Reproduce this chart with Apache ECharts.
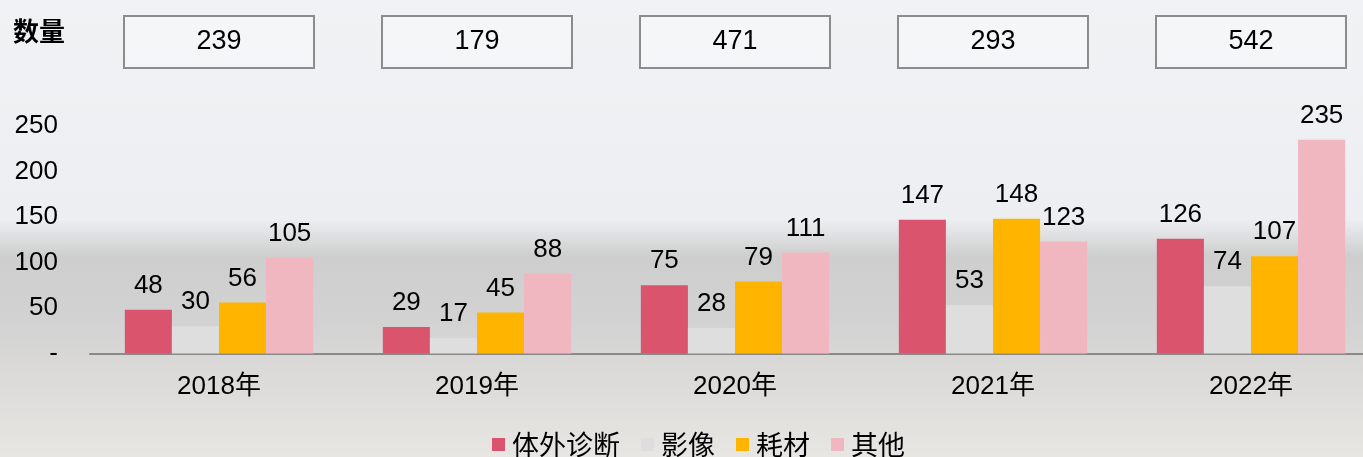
<!DOCTYPE html>
<html>
<head>
<meta charset="utf-8">
<script src="https://cdn.jsdelivr.net/npm/echarts@6/dist/echarts.min.js"></script>
<style>
  html, body { margin: 0; padding: 0; }
  #main { width: 1363px; height: 457px; }
</style>
</head>
<body>
<div id="main"></div>
<script>
// 年份
var years = ['2018年', '2019年', '2020年', '2021年', '2022年'];
// 各类数量
var ivd = [48, 29, 75, 147, 126];
var imaging = [30, 17, 28, 53, 74];
var consumables = [56, 45, 79, 148, 107];
var others = [105, 88, 111, 123, 235];
// 每年合计
var totals = [239, 179, 471, 293, 542];
var seriesNames = ['体外诊断', '影像', '耗材', '其他'];

var FONT = '"Liberation Sans", Arial, "Noto Sans CJK SC", sans-serif';

var chart = echarts.init(document.getElementById('main'));

function barSeries(name, data, color) {
  return {
    name: name,
    type: 'bar',
    xAxisIndex: 0,
    yAxisIndex: 0,
    data: data,
    barGap: '0%',
    barCategoryGap: '27%',
    itemStyle: { color: color },
    label: {
      show: true,
      position: 'top',
      distance: 11,
      color: '#000',
      fontSize: 26,
      fontFamily: FONT
    }
  };
}

chart.setOption({
  backgroundColor: {
    type: 'linear', x: 0, y: 0, x2: 0, y2: 1,
    colorStops: [
      { offset: 0, color: '#f1f2f4' },
      { offset: 0.48, color: '#eceef1' },
      { offset: 0.56, color: '#cecece' },
      { offset: 0.7, color: '#d2d2d2' },
      { offset: 0.85, color: '#dddcda' },
      { offset: 1, color: '#e8e6e2' }
    ]
  },
  color: ['#db546e', '#dedede', '#ffb400', '#f0b7c1'],
  title: {
    text: '数量',
    left: 8,
    top: 13,
    textStyle: { fontSize: 26, fontWeight: 'bold', color: '#000', fontFamily: '"Noto Sans CJK SC", sans-serif' }
  },
  legend: {
    data: seriesNames,
    top: 426,
    left: 487,
    itemWidth: 13,
    itemHeight: 13,
    itemGap: 21,
    icon: 'rect',
    textStyle: { fontSize: 27, color: '#000', fontFamily: '"Noto Sans CJK SC", sans-serif', padding: [0, 0, 0, 2] }
  },
  grid: [
    { left: 90, width: 1290, top: 126, bottom: 103.5, outerBoundsMode: 'none' },
    { left: 90, width: 1290, top: 15, height: 54, outerBoundsMode: 'none' }
  ],
  xAxis: [
    {
      type: 'category',
      gridIndex: 0,
      data: years,
      axisTick: { show: false },
      axisLine: { lineStyle: { color: '#8a8a8a', width: 2 } },
      axisLabel: { color: '#000', fontSize: 26, margin: 20, fontFamily: FONT }
    },
    {
      type: 'category',
      gridIndex: 1,
      data: years,
      show: false
    }
  ],
  yAxis: [
    {
      type: 'value',
      gridIndex: 0,
      min: 0,
      max: 250,
      interval: 50,
      splitLine: { show: false },
      axisLine: { show: false },
      axisTick: { show: false },
      axisLabel: {
        color: '#000',
        fontSize: 26,
        margin: 32,
        fontFamily: FONT,
        formatter: function (v) { return v === 0 ? '-' : v; }
      }
    },
    {
      type: 'value',
      gridIndex: 1,
      min: 0,
      max: 1,
      show: false
    }
  ],
  series: [
    barSeries(seriesNames[0], ivd, '#db546e'),
    barSeries(seriesNames[1], imaging, '#dedede'),
    barSeries(seriesNames[2], consumables, '#ffb400'),
    barSeries(seriesNames[3], others, '#f0b7c1'),
    {
      // 顶部合计框
      name: '合计',
      type: 'bar',
      xAxisIndex: 1,
      yAxisIndex: 1,
      barWidth: 192,
      silent: true,
      data: totals.map(function (t) { return { value: 1, total: t }; }),
      itemStyle: { color: 'rgba(246,247,249,0.75)', borderColor: '#8c8c8c', borderWidth: 2 },
      label: {
        show: true,
        position: 'inside',
        color: '#000',
        fontSize: 27,
        fontFamily: FONT,
        formatter: function (p) { return totals[p.dataIndex]; }
      }
    }
  ]
});
</script>
</body>
</html>
